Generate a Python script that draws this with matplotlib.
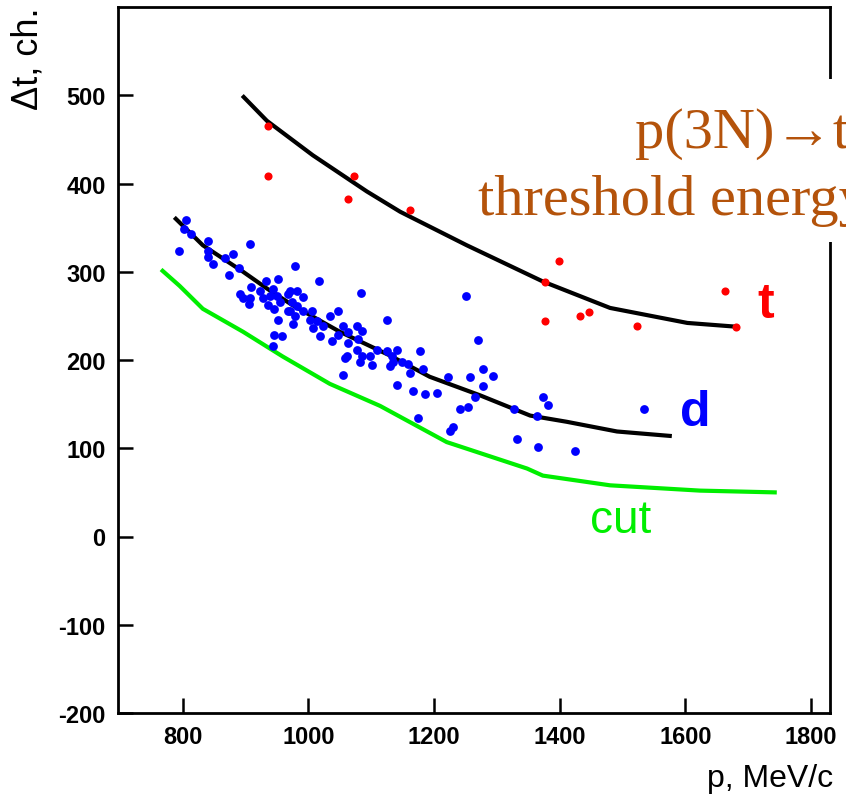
import matplotlib
matplotlib.use("Agg")
import matplotlib.pyplot as plt
from matplotlib.patches import Rectangle

plt.rcParams["axes.unicode_minus"] = False

# fitted curves (p in MeV/c, dt in channels)
t_curve_p = [897, 934, 1007, 1093, 1146, 1252, 1373, 1480, 1603, 1676]
t_curve_dt = [498, 471, 432, 391, 368, 330, 289, 259, 242, 238]

d_curve_p = [789, 832, 896, 934, 975, 1050, 1130, 1193, 1273, 1353, 1411, 1491, 1575]
d_curve_dt = [360, 330, 300, 281, 262, 232, 205, 181, 160, 137, 130, 119, 114]

cut_p = [768, 795, 832, 896, 959, 1034, 1114, 1220, 1348, 1373, 1480, 1623, 1742]
cut_dt = [301, 284, 258, 232, 204, 173, 148, 107, 77, 69, 58, 52, 50]

# tritons
t_p = [935, 935, 1072, 1063, 1161, 1399, 1376, 1376, 1432, 1446, 1523, 1663, 1681]
t_dt = [465, 409, 409, 382, 370, 312, 288, 244, 250, 254, 238, 278, 237]

# deuterons
d_p = [805, 802, 813, 840, 907, 794, 840, 840, 880, 848, 868, 889, 873, 978,
       951, 932, 908, 891, 896, 907, 905, 923, 927, 939, 943, 950, 935, 946,
       954, 967, 982, 974, 967, 978, 951, 946, 958, 943, 975, 1017, 991, 1047,
       1034, 1013, 1018, 1037, 1055, 1047, 1063, 1061, 1083, 970, 982, 970,
       991, 1005, 1002, 1007, 1023, 1063, 1077, 1085, 1125, 1079, 1077, 1085,
       1098, 1058, 1082, 1101, 1055, 1109, 1125, 1141, 1133, 1134, 1149, 1158,
       1130, 1161, 1177, 1141, 1166, 1185, 1251, 1204, 1222, 1257, 1278, 1294,
       1278, 1270, 1265, 1241, 1254, 1174, 1230, 1225, 1373, 1381, 1327, 1364,
       1332, 1365, 1424, 1534, 1182]
d_dt = [359, 349, 343, 335, 332, 323, 323, 317, 320, 309, 316, 304, 296, 306,
        292, 289, 283, 275, 270, 270, 264, 278, 270, 273, 281, 272, 262, 258,
        266, 275, 278, 266, 255, 250, 245, 228, 227, 216, 241, 289, 271, 256,
        250, 244, 227, 221, 239, 228, 219, 205, 276, 278, 261, 255,
        256, 256, 245, 236, 238, 232, 239, 233, 245, 224, 211, 205,
        205, 202, 198, 194, 183, 211, 210, 211, 204, 198, 198, 196,
        193, 185, 210, 172, 165, 162, 273, 163, 181, 181, 190, 182,
        171, 223, 158, 145, 147, 134, 124, 119, 158, 149, 145, 136,
        110, 101, 97, 144, 190]

x_ticks = [800, 1000, 1200, 1400, 1600, 1800]
y_ticks = [-200, -100, 0, 100, 200, 300, 400, 500]

W, H = 846, 803
fig = plt.figure(figsize=(W / 100, H / 100), dpi=100)
ax = fig.add_axes([118 / W, 1 - 714 / H, 712 / W, 706 / H])

ax.plot(cut_p, cut_dt, color="#00ee00", lw=3, zorder=2, solid_joinstyle="round")
ax.plot(d_curve_p, d_curve_dt, color="black", lw=3, zorder=3, solid_joinstyle="round")
ax.plot(t_curve_p, t_curve_dt, color="black", lw=3, zorder=3, solid_joinstyle="round")
ax.scatter(d_p, d_dt, s=40, color="#0000ff", marker="o", linewidths=0, zorder=4)
ax.scatter(t_p, t_dt, s=34, color="#ff0000", marker="o", linewidths=0, zorder=4)

ax.text(1714, 249, "t", color="#ff0000", fontsize=36, fontweight="bold",
        family="Liberation Sans", va="baseline")
ax.text(1591, 126, "d", color="#0000ff", fontsize=36, fontweight="bold",
        family="Liberation Sans", va="baseline")
ax.text(1448, 5, "cut", color="#00ee00", fontsize=33,
        family="Liberation Sans", va="baseline")

ax.set_xlim(697, 1830)
ax.set_ylim(-200, 600)
ax.set_xticks(x_ticks)
ax.set_yticks(y_ticks)
ax.tick_params(direction="in", length=11, width=1.8, labelsize=17, pad=9)
for lab in ax.get_xticklabels() + ax.get_yticklabels():
    lab.set_family("Liberation Sans")
    lab.set_fontweight("bold")
for sp in ax.spines.values():
    sp.set_linewidth(2)

fig.text(28 / W, 1 - 8 / H, "\u0394t, ch.", rotation=90, fontsize=26,
         family="Liberation Sans", ha="center", va="top")
fig.text(833 / W, 1 - 787 / H, "p, MeV/c", fontsize=23,
         family="Liberation Sans", ha="right", va="baseline")

# white panel behind the caption
fig.patches.append(Rectangle((470 / W, 1 - 243 / H), 376 / W, 163 / H,
                             transform=fig.transFigure, facecolor="white",
                             edgecolor="none", zorder=5))
fig.text(635 / W, 1 - 148 / H, "p(3N)\u2192t", fontsize=42, color="#b4530b",
         family=["Liberation Serif", "DejaVu Serif"], va="baseline", zorder=6)
fig.text(478 / W, 1 - 215 / H, "threshold energy", fontsize=42, color="#b4530b",
         family=["Liberation Serif", "DejaVu Serif"], va="baseline", zorder=6)

fig.savefig("out.png", dpi=100)
